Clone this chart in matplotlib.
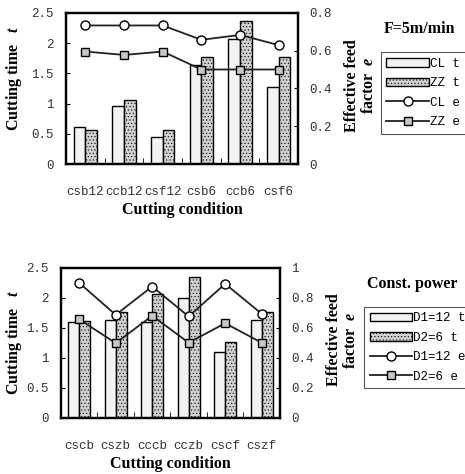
import numpy as np
import matplotlib
matplotlib.use("Agg")
import matplotlib.pyplot as plt

plt.rcParams['mathtext.fontset'] = 'custom'
plt.rcParams['mathtext.it'] = 'Liberation Serif:italic:bold'
plt.rcParams['hatch.linewidth'] = 0.4

# ---- data: top chart (F=5m/min) ----
top_cats = ['csb12', 'ccb12', 'csf12', 'csb6', 'ccb6', 'csf6']
top_cl_t = [0.62, 0.96, 0.44, 1.64, 2.06, 1.27]
top_zz_t = [0.56, 1.06, 0.56, 1.77, 2.36, 1.77]
top_cl_e = [0.733, 0.733, 0.733, 0.657, 0.683, 0.629]
top_zz_e = [0.595, 0.577, 0.595, 0.50, 0.50, 0.50]

# ---- data: bottom chart (Const. power) ----
bot_cats = ['cscb', 'cszb', 'cccb', 'cczb', 'cscf', 'cszf']
bot_d1_t = [1.60, 1.63, 1.60, 2.00, 1.09, 1.63]
bot_d2_t = [1.61, 1.77, 2.06, 2.35, 1.27, 1.77]
bot_d1_e = [0.90, 0.686, 0.875, 0.675, 0.893, 0.693]
bot_d2_e = [0.657, 0.497, 0.68, 0.50, 0.63, 0.50]

mono = 'Liberation Mono'
serif = 'Liberation Serif'

fig = plt.figure(figsize=(4.65, 4.74), dpi=100)


def make_panel(rect, cats, t1, t2, e1, e2, ymax_r, rticks, rlabels,
               labels, leg_xy, title, title_xy, llab, rlab):
    ax = fig.add_axes(rect)
    x = np.arange(len(cats))
    w = 0.3
    b1 = ax.bar(x - w / 2, t1, w, facecolor='#f3f3f3', edgecolor='black',
                linewidth=1.0, zorder=2)
    b2 = ax.bar(x + w / 2, t2, w, facecolor='#d0d0d0', edgecolor='black',
                linewidth=1.0, hatch='.....', zorder=2)
    ax.set_xlim(-0.5, len(cats) - 0.5)
    ax.set_ylim(0, 2.5)
    ax.set_yticks([0, 0.5, 1, 1.5, 2, 2.5])
    ax.set_yticklabels(['0', '0.5', '1', '1.5', '2', '2.5'],
                       fontfamily=mono, fontsize=9, color='#333333')
    ax.set_xticks(x)
    ax.set_xticklabels(cats, fontfamily=mono, fontsize=9, color='#333333')
    ax.set_xticks(np.arange(0.5, len(cats) - 0.5, 1), minor=True)
    ax.tick_params(axis='x', which='major', length=0, pad=16)
    ax.tick_params(axis='x', which='minor', direction='in', length=4)
    ax.tick_params(axis='y', direction='in', length=3, pad=9)
    for s in ax.spines.values():
        s.set_linewidth(1.6)
    ax.set_xlabel('Cutting condition', fontfamily=serif, fontweight='bold',
                  fontsize=11.5, labelpad=3)
    ax.set_ylabel('Cutting time   $t$', fontfamily=serif, fontweight='bold',
                  fontsize=11.5)
    ax.yaxis.set_label_coords(llab[0], llab[1])

    ax2 = ax.twinx()
    l1, = ax2.plot(x, e1, color='#222222', lw=1.3, marker='o', ms=6.5,
                   mfc='white', mec='black', mew=1.0, zorder=3)
    l2, = ax2.plot(x, e2, color='#222222', lw=1.3, marker='s', ms=6,
                   mfc='#c8c8c8', mec='black', mew=1.0, zorder=3)
    ax2.set_ylim(0, ymax_r)
    ax2.set_yticks(rticks)
    ax2.set_yticklabels(rlabels, fontfamily=mono, fontsize=9, color='#333333')
    ax2.tick_params(axis='y', direction='in', length=3, pad=8)
    for s in ax2.spines.values():
        s.set_linewidth(1.6)
    ax2.set_ylabel('Effective feed\nfactor  $e$', fontfamily=serif,
                   fontweight='bold', fontsize=11.5, linespacing=1.05)
    ax2.yaxis.set_label_coords(rlab[0], rlab[1])

    leg = fig.legend([b1, b2, l1, l2], labels, loc='upper left',
                     bbox_to_anchor=leg_xy, bbox_transform=fig.transFigure,
                     borderaxespad=0, prop={'family': mono, 'size': 9},
                     handlelength=3.4, handletextpad=0.1, labelspacing=0.6,
                     fancybox=False, edgecolor='#555555', framealpha=1,
                     borderpad=0.45)
    leg.get_frame().set_linewidth(0.8)
    fig.text(title_xy[0], title_xy[1], title, fontfamily=serif,
             fontweight='bold', fontsize=11.5, ha='center', va='center')
    return ax


make_panel([0.142, 0.654, 0.499, 0.319], top_cats, top_cl_t, top_zz_t,
           top_cl_e, top_zz_e, 0.8, [0, 0.2, 0.4, 0.6, 0.8],
           ['0', '0.2', '0.4', '0.6', '0.8'],
           ['CL t', 'ZZ t', 'CL e', 'ZZ e'], (0.819, 0.890),
           'F=5m/min', (0.903, 0.939), (-0.18, 0.57), (1.20, 0.52))

make_panel([0.131, 0.119, 0.471, 0.316], bot_cats, bot_d1_t, bot_d2_t,
           bot_d1_e, bot_d2_e, 1.0, [0, 0.2, 0.4, 0.6, 0.8, 1.0],
           ['0', '0.2', '0.4', '0.6', '0.8', '1'],
           ['D1=12 t', 'D2=6 t', 'D1=12 e', 'D2=6 e'], (0.783, 0.353),
           'Const. power', (0.886, 0.401), (-0.17, 0.50), (1.21, 0.52))

fig.savefig('out.png', dpi=100)
